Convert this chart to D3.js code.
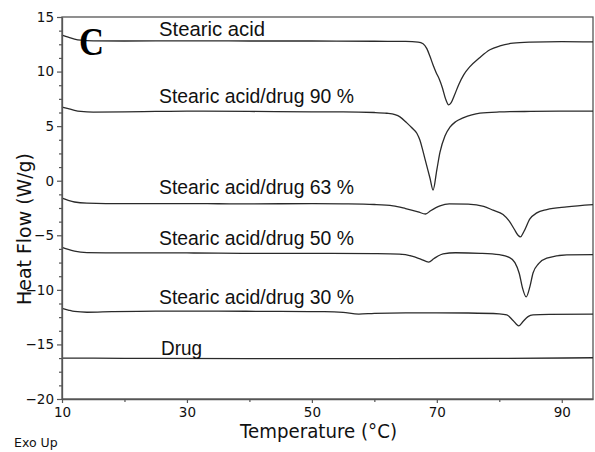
<!DOCTYPE html>
<html><head><meta charset="utf-8">
<script src="https://cdn.jsdelivr.net/npm/d3@7"></script>
<style>body{margin:0;background:#fff}svg{display:block}</style>
</head><body>
<svg id="chart" width="595" height="452"></svg>
<script>
// ---- data ----
const xDomain = [10, 95];
const yDomain = [-20, 15];
const xMajorTicks = [10, 30, 50, 70, 90];
const xMinorTicks = [20, 40, 60, 80];
const yMajorTicks = [-20, -15, -10, -5, 0, 5, 10, 15];

const stearic = [[10,13.35],[11,13.15],[12,12.98],[13,12.88],[15,12.82],[20,12.8],[30,12.82],[40,12.8],[50,12.8],[60,12.78],[65,12.76],[67,12.7],[67.8,12.55],[68.4,12.1],[68.9,11.4],[69.4,10.6],[69.9,9.9],[70.4,9.3],[70.9,8.5],[71.4,7.5],[71.9,6.95],[72.3,7.15],[72.8,7.8],[73.5,8.8],[74.3,9.7],[75.3,10.45],[76.9,11.3],[78.5,12.0],[80.1,12.35],[82.2,12.6],[85,12.7],[90,12.75],[95,12.72]];
const drug90 = [[10,6.75],[11,6.6],[12,6.45],[13,6.35],[15,6.28],[20,6.3],[25,6.35],[30,6.38],[40,6.35],[50,6.3],[55,6.3],[60,6.25],[62,6.18],[63.3,6.05],[64.1,5.85],[65.2,5.3],[66.0,4.85],[66.8,4.35],[67.3,3.7],[67.7,2.9],[68.1,2.0],[68.9,0.25],[69.4,-0.85],[70.0,1.0],[70.5,2.6],[71.3,4.1],[72.1,4.9],[73.0,5.4],[74.2,5.75],[76.9,6.2],[80,6.3],[85,6.35],[90,6.37],[95,6.38]];
const drug63 = [[10,-1.6],[11,-1.8],[12,-1.95],[14,-2.05],[20,-2.1],[30,-2.1],[40,-2.12],[50,-2.1],[55,-2.12],[60,-2.18],[63,-2.3],[65,-2.55],[67,-2.85],[68.2,-3.05],[69,-2.75],[70.5,-2.3],[72,-2.12],[75,-2.15],[77.5,-2.35],[79,-2.7],[80.6,-3.1],[81.6,-3.7],[82.4,-4.45],[83.0,-5.0],[83.4,-5.15],[83.9,-4.7],[84.9,-3.5],[86,-2.95],[87.6,-2.65],[90.8,-2.4],[95,-2.2]];
const drug50 = [[10,-6.1],[11,-6.3],[12,-6.45],[14,-6.58],[20,-6.62],[30,-6.62],[40,-6.65],[50,-6.65],[60,-6.68],[64,-6.72],[66,-6.9],[67.5,-7.2],[68.7,-7.45],[69.5,-7.15],[71,-6.7],[73,-6.6],[77,-6.65],[80,-6.78],[81.5,-7.0],[82.5,-7.5],[83.2,-8.5],[83.7,-9.8],[84.3,-10.65],[84.9,-9.7],[85.4,-8.45],[86.3,-7.6],[87.6,-7.1],[90.8,-6.8],[95,-6.78]];
const drug30 = [[10,-11.7],[11,-11.85],[12,-11.98],[14,-12.05],[18,-12.0],[25,-11.95],[35,-11.95],[45,-11.98],[52,-12.0],[55,-12.07],[57.5,-12.22],[60,-12.15],[65,-12.1],[70,-12.1],[75,-12.12],[80,-12.2],[81.2,-12.3],[82.2,-12.8],[83.1,-13.3],[83.8,-12.9],[84.6,-12.45],[85.4,-12.3],[88,-12.25],[95,-12.22]];
const drugOnly = [[10,-16.25],[20,-16.27],[40,-16.3],[60,-16.3],[80,-16.28],[95,-16.22]];

const seriesList = [stearic, drug90, drug63, drug50, drug30, drugOnly];
const seriesLabels = ["Stearic acid", "Stearic acid/drug 90 %", "Stearic acid/drug 63 %", "Stearic acid/drug 50 %", "Stearic acid/drug 30 %", "Drug"];

// ---- layout ----
const L = 62, R = 593, T = 17, B = 399;
const svg = d3.select("#chart");
const x = d3.scaleLinear().domain(xDomain).range([L, R]);
const y = d3.scaleLinear().domain(yDomain).range([B, T]);
const tickFont = "DejaVu Sans, Verdana, sans-serif";
const axisColor = "#555";

// frame
svg.append("rect").attr("x", L).attr("y", T).attr("width", R - L).attr("height", B - T)
  .attr("fill", "none").attr("stroke", axisColor).attr("stroke-width", 1.3);

// curves
const line = d3.line().x(d => x(d[0])).y(d => y(d[1])).curve(d3.curveMonotoneX);
svg.append("g").selectAll("path").data(seriesList).join("path")
  .attr("d", line).attr("fill", "none").attr("stroke", "#2a2a2a").attr("stroke-width", 1.3);

// x axis
const xAxis = d3.axisBottom(x).tickValues(xMajorTicks).tickSize(4).tickSizeOuter(0).tickPadding(4);
const gx = svg.append("g").attr("transform", `translate(0,${B})`).call(xAxis);
gx.select(".domain").attr("stroke", axisColor).attr("stroke-width", 1.3);
gx.selectAll(".tick line").attr("stroke", axisColor).attr("stroke-width", 1.2);
gx.selectAll(".tick text").attr("font-family", tickFont).attr("font-size", 13.5).attr("fill", "#111");
const gxm = svg.append("g").attr("transform", `translate(0,${B})`)
  .call(d3.axisBottom(x).tickValues(xMinorTicks).tickSize(3).tickSizeOuter(0).tickFormat(""));
gxm.select(".domain").remove();
gxm.selectAll(".tick line").attr("stroke", axisColor).attr("stroke-width", 1.2);

// y axis
const yMinorTicks = d3.range(-20, 15.01, 1.25).filter(v => !yMajorTicks.includes(v));
const yAxis = d3.axisLeft(y).tickValues(yMajorTicks).tickSize(5).tickSizeOuter(0).tickPadding(3);
const gy = svg.append("g").attr("transform", `translate(${L},0)`).call(yAxis);
gy.select(".domain").attr("stroke", axisColor).attr("stroke-width", 1.3);
gy.selectAll(".tick line").attr("stroke", axisColor).attr("stroke-width", 1.2);
gy.selectAll(".tick text").attr("font-family", tickFont).attr("font-size", 13.5).attr("fill", "#111");
const gym = svg.append("g").attr("transform", `translate(${L},0)`)
  .call(d3.axisLeft(y).tickValues(yMinorTicks).tickSize(3).tickSizeOuter(0).tickFormat(""));
gym.select(".domain").remove();
gym.selectAll(".tick line").attr("stroke", axisColor).attr("stroke-width", 1.2);

// series labels
const labelBaselines = [36, 103, 194, 245, 304, 355];
const labelWidths = [106, 195, 195, 195, 195, 41];
svg.append("g").selectAll("text").data(seriesLabels).join("text")
  .attr("x", (d, i) => i === 5 ? 161 : 159)
  .attr("y", (d, i) => labelBaselines[i])
  .attr("font-family", "Liberation Sans, Arial, sans-serif").attr("font-size", 20.5)
  .attr("textLength", (d, i) => labelWidths[i]).attr("lengthAdjust", "spacingAndGlyphs")
  .attr("fill", "#111").text(d => d);

// panel letter
svg.append("text").attr("x", 79).attr("y", 55)
  .attr("font-family", "Liberation Serif, Times New Roman, serif").attr("font-weight", "bold")
  .attr("font-size", 40).attr("textLength", 25).attr("lengthAdjust", "spacingAndGlyphs")
  .attr("fill", "#000").text("C");

// axis titles
svg.append("text").attr("x", 240).attr("y", 438)
  .attr("font-family", tickFont).attr("font-size", 20)
  .attr("textLength", 157).attr("lengthAdjust", "spacingAndGlyphs")
  .attr("fill", "#111").text("Temperature (°C)");
svg.append("text").attr("transform", "translate(31,229) rotate(-90)")
  .attr("text-anchor", "middle")
  .attr("font-family", tickFont).attr("font-size", 20)
  .attr("textLength", 152).attr("lengthAdjust", "spacingAndGlyphs")
  .attr("fill", "#111").text("Heat Flow (W/g)");
svg.append("text").attr("x", 14).attr("y", 447)
  .attr("font-family", tickFont).attr("font-size", 12.5)
  .attr("fill", "#111").text("Exo Up");
</script>
</body></html>
